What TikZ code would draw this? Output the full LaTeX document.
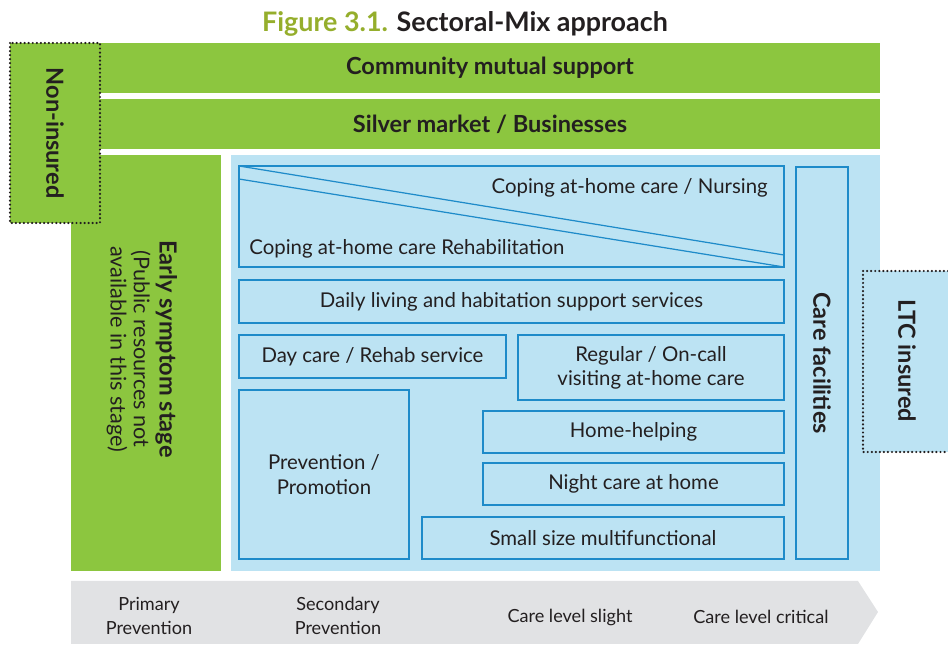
\documentclass[tikz,border=0pt]{standalone}
\usepackage{fontspec}
\setmainfont{Lato}
\usetikzlibrary{fit}
\definecolor{leaf}{HTML}{8CC63F}
\definecolor{sky}{HTML}{BCE3F3}
\definecolor{edge}{HTML}{1E8BC9}
\definecolor{ink}{HTML}{231F20}
\definecolor{olive}{HTML}{95AE2C}
\definecolor{mist}{HTML}{E1E2E4}
\tikzset{
  zone/.style={inner sep=0pt, outer sep=0pt, draw=none},
  svc/.style={inner sep=0pt, outer sep=0pt, draw=edge, line width=0.7pt, fill=sky},
  lbl/.style={text=ink, font=\fontsize{11.6}{13.8}\selectfont, align=center, inner sep=0pt},
  head/.style={text=ink, font=\fontsize{13.4}{15}\selectfont\bfseries, align=center, inner sep=0pt},
  dotbox/.style={draw=ink, line width=1.4pt, line cap=round, dash pattern=on 0pt off 2.3pt},
  stage/.style={text=ink, font=\fontsize{10.3}{13.6}\selectfont, align=center, inner sep=0pt}
}
\begin{document}
\begin{tikzpicture}[x=0.02cm, y=-0.02cm]
\useasboundingbox (0,0) rectangle (948,645);

% title
\node[font=\fontsize{15.3}{18}\selectfont\bfseries, text=ink, inner sep=0pt] (title) at (465,24)
  {\textcolor{olive}{Figure 3.1.} Sectoral-Mix approach};

% green sectors
\node[zone, fill=leaf, fit={(100,43)(880,93)}] (community) {};
\node[head] at (community.center) {Community mutual support};
\node[zone, fill=leaf, fit={(100,99)(880,149)}] (silver) {};
\node[head] at (silver.center) {Silver market / Businesses};
\node[zone, fill=leaf, fit={(71,155)(221,571)}] (early) {};
\node[text=ink, inner sep=0pt, align=center, rotate=-90,
      font=\fontsize{12.3}{13.2}\selectfont] (earlytxt) at (142,349)
  {{\fontsize{13.4}{15}\selectfont\bfseries Early symptom stage}\\[1.5pt]
   (Public resources not\\ available in this stage)};

% non-insured tag
\node[zone, fill=leaf, fit={(10,43)(100,223)}] (noins) {};
\draw[dotbox] (noins.north west) rectangle (noins.south east);
\node[head, rotate=-90] at (noins.center) {Non-insured};

% public services area
\node[zone, fill=sky, fit={(231,155)(880,571)}] (public) {};

\node[svc, fit={(239,166)(784,267)}] (coping) {};
\coordinate (copA) at (239,179);
\coordinate (copB) at (784,255);
\draw[edge, line width=0.7pt] (coping.north west) -- (copB);
\draw[edge, line width=0.7pt] (copA) -- (coping.south east);
\node[lbl, anchor=east] at (768,188) {Coping at-home care / Nursing};
\node[lbl, anchor=west] at (249,249) {Coping at-home care Rehabilitation};

\node[svc, fit={(239,280)(784,323)}] (daily) {};
\node[lbl] at (daily.center) {Daily living and habitation support services};

\node[svc, fit={(239,335)(506,378)}] (daycare) {};
\node[lbl] at (daycare.center) {Day care / Rehab service};

\node[svc, fit={(518,335)(784,400)}] (visit) {};
\node[lbl] at (visit.center) {Regular / On-call\\visiting at-home care};

\node[svc, fit={(239,390)(409,559)}] (prev) {};
\node[lbl] at (prev.center) {Prevention /\\Promotion};

\node[svc, fit={(483,411)(784,453)}] (homehelp) {};
\node[lbl] at (homehelp.center) {Home-helping};

\node[svc, fit={(483,463)(784,505)}] (night) {};
\node[lbl] at (night.center) {Night care at home};

\node[svc, fit={(422,517)(784,559)}] (small) {};
\node[lbl] at (small.center) {Small size multifunctional};

\node[svc, fit={(796,167)(848,559)}] (facil) {};
\node[head, rotate=-90] at (facil.center) {Care facilities};

% LTC insured tag
\node[zone, fill=sky, fit={(863,271)(948,452)}] (ltc) {};
\draw[dotbox] (ltc.north east) -- (ltc.north west) -- (ltc.south west) -- (ltc.south east);
\node[head, rotate=-90] at (907,361) {LTC insured};

% stage arrow
\coordinate (arA) at (71,581);
\coordinate (arB) at (858,581);
\coordinate (arTip) at (878,612);
\coordinate (arC) at (858,644);
\coordinate (arD) at (71,644);
\fill[mist] (arA) -- (arB) -- (arTip) -- (arC) -- (arD) -- cycle;
\node[stage] (s1) at (149,616) {Primary\\Prevention};
\node[stage] (s2) at (338,616) {Secondary\\Prevention};
\node[stage] (s3) at (570,617) {Care level slight};
\node[stage] (s4) at (761,617) {Care level critical};
\end{tikzpicture}
\end{document}
